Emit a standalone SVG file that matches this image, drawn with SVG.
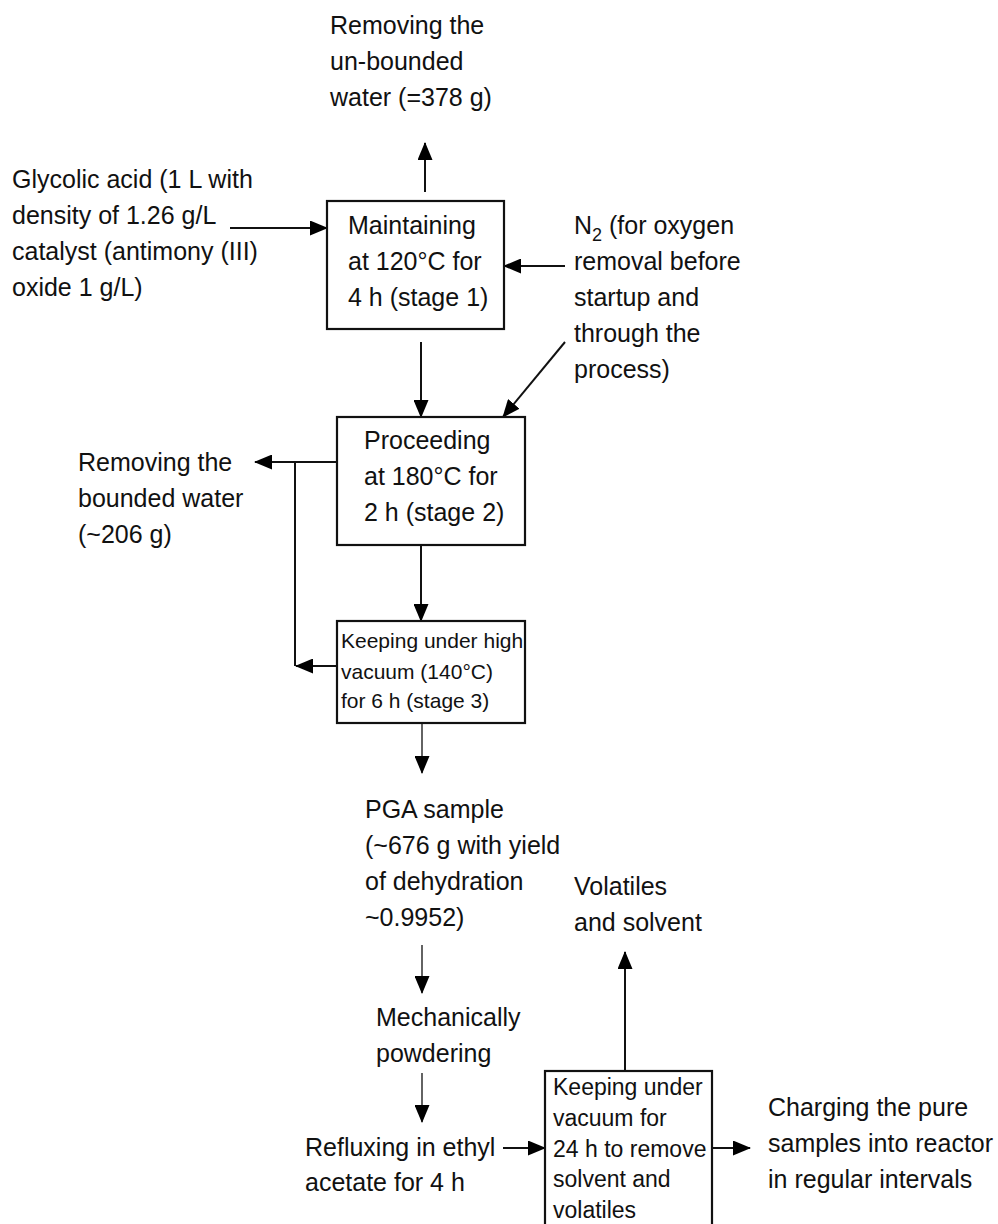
<svg xmlns="http://www.w3.org/2000/svg" width="998" height="1224" viewBox="0 0 998 1224">
<defs>
<marker id="ah" markerUnits="userSpaceOnUse" markerWidth="18" markerHeight="15" viewBox="0 0 18 15" refX="17" refY="7.5" orient="auto">
<path d="M0,0 L18,7.5 L0,15 z" fill="#000"/>
</marker>
<style>
text{font-family:"Liberation Sans",Arial,sans-serif;font-size:25px;fill:#111}
.sm{font-size:21px}
.md{font-size:23px}
.box{fill:#fff;stroke:#111;stroke-width:2.2}
.ln{stroke:#111;stroke-width:2;fill:none}
.thin{stroke:#222;stroke-width:1.4;fill:none}
</style>
</defs>
<rect width="998" height="1224" fill="#fff"/>

<g id="connectors">
<line class="ln" x1="425" y1="192" x2="425" y2="143" marker-end="url(#ah)"/>
<line class="ln" x1="230" y1="228" x2="327" y2="228" marker-end="url(#ah)"/>
<line class="ln" x1="565" y1="266" x2="504" y2="266" marker-end="url(#ah)"/>
<line class="ln" x1="421" y1="342" x2="421" y2="417" marker-end="url(#ah)"/>
<line class="ln" x1="565" y1="342" x2="503" y2="417" marker-end="url(#ah)"/>
<line class="ln" x1="337" y1="462" x2="255" y2="462" marker-end="url(#ah)"/>
<line class="ln" x1="295" y1="462" x2="295" y2="666"/>
<line class="ln" x1="337" y1="666" x2="296" y2="666" marker-end="url(#ah)"/>
<line class="ln" x1="421" y1="545" x2="421" y2="621" marker-end="url(#ah)"/>
<line class="thin" x1="422" y1="723" x2="422" y2="773" marker-end="url(#ah)"/>
<line class="thin" x1="422" y1="945" x2="422" y2="993" marker-end="url(#ah)"/>
<line class="thin" x1="422" y1="1073" x2="422" y2="1122" marker-end="url(#ah)"/>
<line class="ln" x1="503" y1="1148" x2="545" y2="1148" marker-end="url(#ah)"/>
<line class="ln" x1="712" y1="1148" x2="750" y2="1148" marker-end="url(#ah)"/>
<line class="ln" x1="625" y1="1071" x2="625" y2="952" marker-end="url(#ah)"/>
</g>

<g id="stage1">
<rect class="box" x="327" y="201" width="177" height="128"/>
<text x="348" y="234">Maintaining</text>
<text x="348" y="270">at 120°C for</text>
<text x="348" y="306">4 h (stage 1)</text>
</g>

<g id="stage2">
<rect class="box" x="337" y="417" width="188" height="128"/>
<text x="364" y="449">Proceeding</text>
<text x="364" y="485">at 180°C for</text>
<text x="364" y="521">2 h (stage 2)</text>
</g>

<g id="stage3">
<rect class="box" x="337" y="621" width="188" height="102"/>
<text class="sm" x="341" y="648">Keeping under high</text>
<text class="sm" x="341" y="679">vacuum (140°C)</text>
<text class="sm" x="341" y="708">for 6 h (stage 3)</text>
</g>

<g id="vacuum-drying">
<rect class="box" x="545" y="1071" width="167" height="165"/>
<text class="md" x="553" y="1095">Keeping under</text>
<text class="md" x="553" y="1126">vacuum for</text>
<text class="md" x="553" y="1157">24 h to remove</text>
<text class="md" x="553" y="1187">solvent and</text>
<text class="md" x="553" y="1218">volatiles</text>
</g>

<g id="unbounded-water">
<text x="330" y="34">Removing the</text>
<text x="330" y="70">un-bounded</text>
<text x="330" y="106">water (=378 g)</text>
</g>

<g id="glycolic-acid">
<text x="12" y="188">Glycolic acid (1 L with</text>
<text x="12" y="224">density of 1.26 g/L</text>
<text x="12" y="260">catalyst (antimony (III)</text>
<text x="12" y="296">oxide 1 g/L)</text>
</g>

<g id="nitrogen">
<text x="574" y="234">N<tspan font-size="18" dy="7">2</tspan><tspan dy="-7"> (for oxygen</tspan></text>
<text x="574" y="270">removal before</text>
<text x="574" y="306">startup and</text>
<text x="574" y="342">through the</text>
<text x="574" y="378">process)</text>
</g>

<g id="bounded-water">
<text x="78" y="471">Removing the</text>
<text x="78" y="507">bounded water</text>
<text x="78" y="543">(~206 g)</text>
</g>

<g id="pga-sample">
<text x="365" y="818">PGA sample</text>
<text x="365" y="854">(~676 g with yield</text>
<text x="365" y="890">of dehydration</text>
<text x="365" y="926">~0.9952)</text>
</g>

<g id="volatiles">
<text x="574" y="895">Volatiles</text>
<text x="574" y="931">and solvent</text>
</g>

<g id="powdering">
<text x="376" y="1026">Mechanically</text>
<text x="376" y="1062">powdering</text>
</g>

<g id="refluxing">
<text x="305" y="1156">Refluxing in ethyl</text>
<text x="305" y="1191">acetate for 4 h</text>
</g>

<g id="charging">
<text x="768" y="1116">Charging the pure</text>
<text x="768" y="1152">samples into reactor</text>
<text x="768" y="1188">in regular intervals</text>
</g>
</svg>
